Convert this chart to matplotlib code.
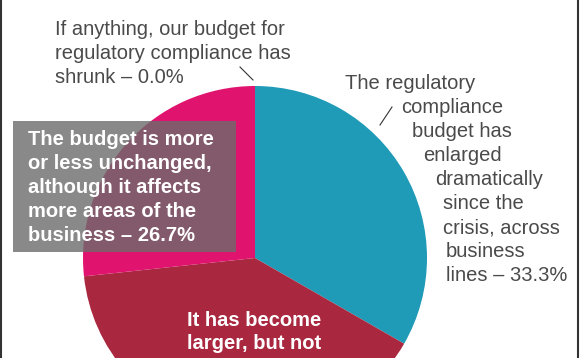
import matplotlib
matplotlib.use('Agg')
import matplotlib.pyplot as plt
from matplotlib.patches import Rectangle
from matplotlib.lines import Line2D

# survey answers, clockwise from 12 o'clock
shares = [33.3, 40.0, 26.7, 0.0]
colors = ['#1f9bb8', '#a9283f', '#e0136f', '#ffffff']

top_label = ['If anything, our budget for', 'regulatory compliance has', 'shrunk \u2013 0.0%']
right_label = ['The regulatory', 'compliance', 'budget has', 'enlarged', 'dramatically',
               'since the', 'crisis, across', 'business', 'lines \u2013 33.3%']
box_label = ['The budget is more', 'or less unchanged,', 'although it affects',
             'more areas of the', 'business \u2013 26.7%']
red_label = ['It has become', 'larger, but not']

W, H = 580, 358
plt.rcParams['font.family'] = ['Liberation Sans', 'DejaVu Sans']

fig = plt.figure(figsize=(W / 100, H / 100), dpi=100)
ax = fig.add_axes([0, 0, 1, 1])

ax.pie(shares, colors=colors, startangle=90, counterclock=False,
       center=(255, H - 258), radius=172, wedgeprops=dict(linewidth=0))
ax.set_xlim(0, W)
ax.set_ylim(0, H)
ax.set_aspect('auto')
ax.axis('off')


def lines(texts, xs, y0, step=24, **kw):
    # y0 = baseline of the first line, in pixels from the top
    if not isinstance(xs, list):
        xs = [xs] * len(texts)
    for i, (t, x) in enumerate(zip(texts, xs)):
        ax.text(x, H - (y0 + i * step), t, va='baseline', ha='left',
                fontsize=14.5, **kw)


grey = '#4a4a4a'
lines(top_label, 55, 35, color=grey)
lines(right_label, [345, 401, 412, 423, 435, 443, 443, 446, 446], 89, color=grey)

# leader lines
ax.add_line(Line2D([240, 253], [H - 67, H - 80], color='#333333', lw=0.8))
ax.add_line(Line2D([380, 392], [H - 125, H - 107], color='#333333', lw=0.8))

# semi transparent grey box
ax.add_patch(Rectangle((13, H - 252), 223, 131, facecolor='#6c6c6c', alpha=0.8,
                       linewidth=0, zorder=3))
lines(box_label, 28, 145, color='white', fontweight='bold', zorder=4)
lines(red_label, 187, 326, step=23, color='white', fontweight='bold')

# frame lines left/right
fig.add_artist(Line2D([1 / W, 1 / W], [0, 1], color='#333333', lw=1.5))
fig.add_artist(Line2D([578 / W, 578 / W], [0, 1], color='#333333', lw=1.5))

fig.savefig('out.png', dpi=100)
